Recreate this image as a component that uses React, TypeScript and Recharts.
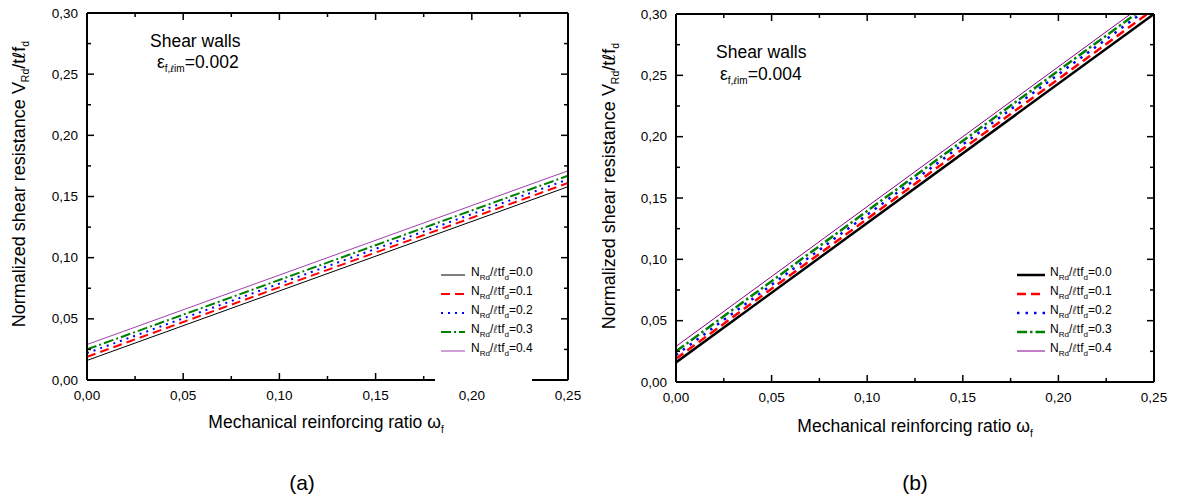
import React from "react";
import { LineChart, Line, XAxis, YAxis, Legend } from "recharts";

// mechanical reinforcing ratio (lines are straight, two points each)
const omegaF = [0, 0.25];

// (a) eps_f,lim = 0.002
const wallA_n00 = [0.016, 0.158];
const wallA_n01 = [0.019, 0.161];
const wallA_n02 = [0.022, 0.164];
const wallA_n03 = [0.025, 0.167];
const wallA_n04 = [0.029, 0.171];

// (b) eps_f,lim = 0.004
const wallB_n00 = [0.016, 0.3];
const wallB_n01 = [0.019, 0.304];
const wallB_n02 = [0.022, 0.308];
const wallB_n03 = [0.025, 0.311];
const wallB_n04 = [0.029, 0.314];

const axialRatios = ["0.0", "0.1", "0.2", "0.3", "0.4"];
const xTicks = [0, 0.025, 0.05, 0.075, 0.1, 0.125, 0.15, 0.175, 0.2, 0.225, 0.25];
const yTicks = [0, 0.025, 0.05, 0.075, 0.1, 0.125, 0.15, 0.175, 0.2, 0.225, 0.25, 0.275, 0.3];

const FONT = "'Liberation Sans', Arial, Helvetica, sans-serif";
const ELL = "'DejaVu Sans', sans-serif";
const keys = ["n0", "n1", "n2", "n3", "n4"];

const build = (cols: number[][]) =>
  omegaF.map((w, i) => {
    const row: Record<string, number> = { w };
    cols.forEach((c, k) => (row[keys[k]] = c[i]));
    return row;
  });

const dataA = build([wallA_n00, wallA_n01, wallA_n02, wallA_n03, wallA_n04]);
const dataB = build([wallB_n00, wallB_n01, wallB_n02, wallB_n03, wallB_n04]);

type Style = { color: string; width: number; dash?: string };

const stylesA: Style[] = [
  { color: "#000000", width: 1 },
  { color: "#ff0000", width: 2, dash: "9 5" },
  { color: "#0000ff", width: 2, dash: "2 5" },
  { color: "#008000", width: 2, dash: "10 3 2 3" },
  { color: "#a040b0", width: 1 },
];
const stylesB: Style[] = [
  { color: "#000000", width: 2.5 },
  { color: "#ff0000", width: 2.5, dash: "9 5" },
  { color: "#0000ff", width: 2.5, dash: "2.5 6" },
  { color: "#008000", width: 2.5, dash: "10 3 2.5 3" },
  { color: "#8a008a", width: 1 },
];

const fmt = (v: number) => v.toFixed(2).replace(".", ",");
const isMajor = (v: number) => Math.abs(v * 20 - Math.round(v * 20)) < 1e-6;

const tickLen = (v: number) => (isMajor(v) ? 7 : 4);

const bottomTick = (p: any) => {
  const v = p.payload.value;
  return (
    <g>
      <line x1={p.x} x2={p.x} y1={p.y} y2={p.y - tickLen(v)} stroke="#000" strokeWidth={1.5} />
      {isMajor(v) && (
        <text x={p.x} y={p.y + 20} textAnchor="middle" fontSize={13.5} fontFamily={FONT} fill="#000">
          {fmt(v)}
        </text>
      )}
    </g>
  );
};
const topTick = (p: any) => (
  <line x1={p.x} x2={p.x} y1={p.y} y2={p.y + tickLen(p.payload.value)} stroke="#000" strokeWidth={1.5} />
);
const leftTick = (p: any) => {
  const v = p.payload.value;
  return (
    <g>
      <line x1={p.x} x2={p.x + tickLen(v)} y1={p.y} y2={p.y} stroke="#000" strokeWidth={1.5} />
      {isMajor(v) && (
        <text x={p.x - 9} y={p.y + 4.5} textAnchor="end" fontSize={13.5} fontFamily={FONT} fill="#000">
          {fmt(v)}
        </text>
      )}
    </g>
  );
};
const rightTick = (p: any) => (
  <line x1={p.x} x2={p.x - tickLen(p.payload.value)} y1={p.y} y2={p.y} stroke="#000" strokeWidth={1.5} />
);

const axisLine = { stroke: "#000", strokeWidth: 2 };

function LegendRows({ styles, sample, gap, box }: { styles: Style[]; sample: number; gap: number; box: boolean }) {
  return (
    <div
      style={{
        background: box ? "#fff" : "transparent",
        paddingTop: 3,
        height: box ? 122 : "auto",
        boxSizing: "border-box",
        fontFamily: FONT,
        fontSize: 12,
        color: "#000",
      }}
    >
      {styles.map((s, i) => (
        <div key={i} style={{ height: 19, display: "flex", alignItems: "center", whiteSpace: "nowrap" }}>
          <svg width={sample} height={8} style={{ marginLeft: box ? 6 : 0, flex: "none" }}>
            <line x1={0} x2={sample} y1={4} y2={4} stroke={s.color} strokeWidth={s.width} strokeDasharray={s.dash} />
          </svg>
          <span style={{ marginLeft: gap, lineHeight: "12px" }}>
            N<span style={{ fontSize: 8, verticalAlign: -4 }}>Rd</span>/
            <span style={{ fontFamily: ELL, fontSize: 11, color: "#555" }}>ℓ</span>tf
            <span style={{ fontSize: 8, verticalAlign: -4 }}>d</span>={axialRatios[i]}
          </span>
        </div>
      ))}
    </div>
  );
}

type PanelProps = {
  data: Record<string, number>[];
  styles: Style[];
  margin: { top: number; right: number; bottom: number; left: number };
  eps: string;
  note: { x: number; y: number; ex: number; ey: number };
  yTitle: { x: number; y: number };
  xTitle: { x: number; y: number };
  letter: { text: string; x: number; y: number };
  legend: { left: number; top: number; width: number; sample: number; gap: number; box: boolean };
};

function Panel(p: PanelProps) {
  return (
    <LineChart width={589} height={497} data={p.data} margin={p.margin}>
      <XAxis
        dataKey="w"
        type="number"
        domain={[0, 0.25]}
        ticks={xTicks}
        interval={0}
        allowDataOverflow
        height={1}
        tickSize={0}
        tickMargin={0}
        tickLine={false}
        axisLine={axisLine}
        tick={bottomTick}
      />
      <XAxis
        xAxisId="top"
        orientation="top"
        dataKey="w"
        type="number"
        domain={[0, 0.25]}
        ticks={xTicks}
        interval={0}
        allowDataOverflow
        height={1}
        tickSize={0}
        tickMargin={0}
        tickLine={false}
        axisLine={axisLine}
        tick={topTick}
      />
      <YAxis
        type="number"
        domain={[0, 0.3]}
        ticks={yTicks}
        interval={0}
        allowDataOverflow
        width={1}
        tickSize={0}
        tickMargin={0}
        tickLine={false}
        axisLine={axisLine}
        tick={leftTick}
      />
      <YAxis
        yAxisId="right"
        orientation="right"
        type="number"
        domain={[0, 0.3]}
        ticks={yTicks}
        interval={0}
        allowDataOverflow
        width={1}
        tickSize={0}
        tickMargin={0}
        tickLine={false}
        axisLine={axisLine}
        tick={rightTick}
      />
      {p.styles.map((s, i) => (
        <Line
          key={keys[i]}
          type="linear"
          dataKey={keys[i]}
          name={`N=${axialRatios[i]}`}
          stroke={s.color}
          strokeWidth={s.width}
          strokeDasharray={s.dash}
          dot={false}
          activeDot={false}
          isAnimationActive={false}
        />
      ))}
      <Legend
        layout="vertical"
        align="center"
        verticalAlign="middle"
        wrapperStyle={{ left: p.legend.left, top: p.legend.top, width: p.legend.width, bottom: "auto", right: "auto" }}
        content={() => (
          <LegendRows styles={p.styles} sample={p.legend.sample} gap={p.legend.gap} box={p.legend.box} />
        )}
      />
      <g fontFamily={FONT} fill="#000">
        <text x={p.note.x} y={p.note.y} fontSize={17.5}>
          Shear walls
        </text>
        <text x={p.note.ex} y={p.note.ey} fontSize={17.5}>
          ε
          <tspan fontSize={10} dy={4}>
            f,
          </tspan>
          <tspan fontSize={9} fontFamily={ELL}>
            ℓ
          </tspan>
          <tspan fontSize={10}>im</tspan>
          <tspan dy={-4}>={p.eps}</tspan>
        </text>
        <text
          x={p.yTitle.x}
          y={p.yTitle.y}
          fontSize={18}
          textAnchor="middle"
          transform={`rotate(-90 ${p.yTitle.x} ${p.yTitle.y})`}
        >
          Normalized shear resistance V
          <tspan fontSize={10.5} dy={4}>
            Rd
          </tspan>
          <tspan dy={-4}>/t</tspan>
          <tspan fontFamily={ELL} fontSize={17}>
            ℓ
          </tspan>
          <tspan>f</tspan>
          <tspan fontSize={10.5} dy={4}>
            d
          </tspan>
        </text>
        <text x={p.xTitle.x} y={p.xTitle.y} fontSize={17.5} textAnchor="middle">
          Mechanical reinforcing ratio ω
          <tspan fontSize={10} dy={5}>
            f
          </tspan>
        </text>
        <text x={p.letter.x} y={p.letter.y} fontSize={21} textAnchor="middle">
          {p.letter.text}
        </text>
      </g>
    </LineChart>
  );
}

export default function App() {
  return (
    <div style={{ position: "absolute", left: 0, top: 0, width: 1178, height: 497, background: "#fff" }}>
      <div style={{ position: "absolute", left: 0, top: 0 }}>
        <Panel
          data={dataA}
          styles={stylesA}
          margin={{ top: 12, right: 20, bottom: 116, left: 86 }}
          eps="0.002"
          note={{ x: 150, y: 47, ex: 157, ey: 68 }}
          yTitle={{ x: 25, y: 184 }}
          xTitle={{ x: 326, y: 428 }}
          letter={{ text: "(a)", x: 302, y: 490 }}
          legend={{ left: 435, top: 262, width: 97, sample: 24, gap: 6, box: true }}
        />
      </div>
      <div style={{ position: "absolute", left: 589, top: 0 }}>
        <Panel
          data={dataB}
          styles={stylesB}
          margin={{ top: 13, right: 23, bottom: 114, left: 86 }}
          eps="0.004"
          note={{ x: 127, y: 58, ex: 131, ey: 80 }}
          yTitle={{ x: 26, y: 186 }}
          xTitle={{ x: 326, y: 432 }}
          letter={{ text: "(b)", x: 326, y: 490 }}
          legend={{ left: 428, top: 262, width: 110, sample: 28, gap: 5, box: false }}
        />
      </div>
    </div>
  );
}
